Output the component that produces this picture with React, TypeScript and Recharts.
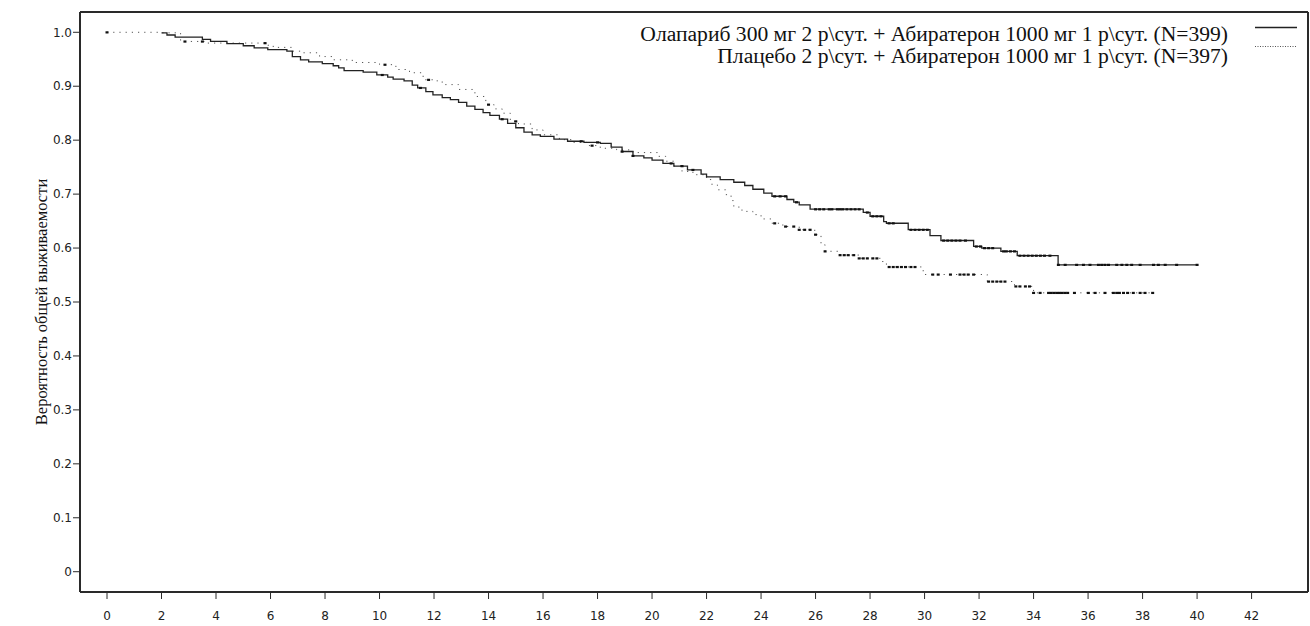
import React from 'react';
import { ComposedChart, Line, Scatter, XAxis, YAxis, ReferenceLine, Legend } from 'recharts';

const xTicks = [0, 2, 4, 6, 8, 10, 12, 14, 16, 18, 20, 22, 24, 26, 28, 30, 32, 34, 36, 38, 40, 42];
const yTicks = [0, 0.1, 0.2, 0.3, 0.4, 0.5, 0.6, 0.7, 0.8, 0.9, 1.0];

const seriesNames = [
  'Олапариб 300 мг 2 р\\сут. + Абиратерон 1000 мг 1 р\\сут. (N=399)',
  'Плацебо 2 р\\сут. + Абиратерон 1000 мг 1 р\\сут. (N=397)',
];
const yLabel = 'Вероятность общей выживаемости';

const olaparibTime = [2.0, 2.2, 2.5, 3.5, 3.8, 4.4, 5.0, 5.4, 5.9, 6.6, 6.8, 7.1, 7.4, 7.9, 8.3, 8.5, 8.7, 9.4, 9.9, 10.3, 10.5, 10.9, 11.2, 11.4, 11.7, 11.96, 12.3, 12.6, 12.9, 13.2, 13.5, 13.8, 14.05, 14.4, 14.7, 15.0, 15.3, 15.6, 15.9, 16.4, 16.9, 17.5, 18.1, 18.5, 18.9, 19.3, 19.7, 20.0, 20.4, 20.8, 21.3, 21.8, 22.0, 22.5, 23.0, 23.4, 23.7, 24.1, 24.4, 24.95, 25.2, 25.4, 25.8, 27.75, 28.0, 28.5, 28.6, 29.4, 30.2, 30.6, 31.8, 32.1, 32.8, 33.4, 34.9, 40.0];
const olaparibSurv = [0.999, 0.995, 0.991, 0.987, 0.983, 0.979, 0.975, 0.971, 0.968, 0.965, 0.955, 0.949, 0.945, 0.942, 0.938, 0.934, 0.929, 0.926, 0.921, 0.917, 0.913, 0.910, 0.902, 0.897, 0.890, 0.884, 0.879, 0.875, 0.870, 0.863, 0.857, 0.851, 0.846, 0.839, 0.831, 0.823, 0.815, 0.810, 0.807, 0.802, 0.798, 0.796, 0.794, 0.787, 0.779, 0.771, 0.767, 0.763, 0.757, 0.752, 0.745, 0.737, 0.732, 0.727, 0.722, 0.716, 0.709, 0.702, 0.696, 0.690, 0.685, 0.680, 0.672, 0.666, 0.659, 0.649, 0.646, 0.634, 0.623, 0.614, 0.603, 0.600, 0.594, 0.586, 0.569, 0.569];

const placeboTime = [0, 2.0, 2.7, 3.7, 5.9, 6.1, 6.8, 7.2, 7.8, 8.3, 9.0, 10.0, 10.6, 11.1, 11.6, 12.0, 12.3, 12.9, 13.5, 13.9, 14.2, 14.5, 14.8, 15.1, 15.6, 16.0, 16.6, 17.1, 17.6, 18.1, 18.7, 19.3, 20.2, 20.5, 20.8, 21.1, 21.5, 22.0, 22.2, 22.4, 22.7, 22.9, 23.0, 23.3, 23.7, 24.0, 24.4, 24.8, 25.4, 25.97, 26.2, 26.35, 26.9, 27.6, 28.4, 28.6, 29.95, 32.3, 33.3, 34.0, 38.4];
const placeboSurv = [1.0, 0.999, 0.983, 0.980, 0.976, 0.972, 0.965, 0.962, 0.955, 0.949, 0.944, 0.940, 0.931, 0.925, 0.912, 0.910, 0.903, 0.894, 0.881, 0.866, 0.858, 0.850, 0.835, 0.830, 0.819, 0.810, 0.801, 0.796, 0.790, 0.785, 0.782, 0.777, 0.770, 0.761, 0.752, 0.742, 0.736, 0.727, 0.717, 0.708, 0.699, 0.688, 0.676, 0.668, 0.662, 0.654, 0.646, 0.640, 0.634, 0.625, 0.606, 0.594, 0.587, 0.581, 0.575, 0.565, 0.551, 0.538, 0.529, 0.517, 0.517];

const olaparibCensor = [10.1, 11.5, 14.5, 17.4, 18.0, 18.9, 19.3, 20.7, 21.1, 21.5, 24.5, 24.7, 24.9, 25.3, 26.0, 26.15, 26.3, 26.5, 26.6, 26.8, 26.9, 27.0, 27.15, 27.3, 27.45, 27.6, 27.9, 28.1, 28.25, 28.4, 28.7, 28.85, 29.5, 29.65, 29.8, 29.95, 30.1, 30.7, 30.85, 31.0, 31.15, 31.3, 31.5, 31.9, 32.05, 32.2, 32.35, 32.5, 32.9, 33.0, 33.15, 33.3, 33.5, 33.65, 33.8, 33.95, 34.1, 34.25, 34.4, 34.6, 34.91, 35.16, 35.58, 35.83, 36.07, 36.38, 36.5, 36.62, 36.75, 37.05, 37.24, 37.42, 37.6, 37.91, 38.4, 38.58, 38.83, 39.25, 40.0];
const placeboCensor = [0, 2.86, 3.5, 5.8, 10.2, 11.8, 14.0, 15.0, 17.8, 24.5, 24.9, 25.2, 25.4, 25.6, 25.8, 26.0, 26.35, 26.9, 27.05, 27.2, 27.4, 27.6, 27.75, 27.9, 28.1, 28.25, 28.7, 28.85, 29.0, 29.15, 29.3, 29.5, 29.65, 30.3, 30.5, 30.95, 31.3, 31.45, 31.6, 31.8, 32.35, 32.5, 32.65, 32.8, 32.95, 33.35, 33.5, 33.7, 33.85, 34.0, 34.24, 34.55, 34.65, 34.75, 34.85, 34.95, 35.05, 35.15, 35.25, 35.5, 36.01, 36.26, 36.62, 36.93, 37.05, 37.15, 37.3, 37.45, 37.66, 37.91, 38.09, 38.37];

const toRows = (times: number[], surv: number[]) => times.map((t, i) => ({ t, s: surv[i] }));
const stepValue = (times: number[], surv: number[], t: number) => {
  let v = surv[0];
  for (let i = 0; i < times.length; i++) {
    if (times[i] <= t + 1e-9) v = surv[i];
  }
  return v;
};
const censorRows = (c: number[], times: number[], surv: number[]) => c.map((t) => ({ t, s: stepValue(times, surv, t) }));

const olaparibData = toRows(olaparibTime, olaparibSurv);
const placeboData = toRows(placeboTime, placeboSurv);
const olaparibCensorData = censorRows(olaparibCensor, olaparibTime, olaparibSurv);
const placeboCensorData = censorRows(placeboCensor, placeboTime, placeboSurv);

const X_DOMAIN: [number, number] = [-0.991, 44.07];
const Y_DOMAIN: [number, number] = [-0.0376, 1.0376];
const AXIS = '#2a2a2a';
const tickFont = { fontFamily: 'DejaVu Sans, Verdana, sans-serif', fontSize: 12, fill: '#222' };
const serif = '"Liberation Serif", "Times New Roman", serif';

const CensorMark = (props: any) => {
  const { cx, cy } = props;
  if (cx == null || cy == null) return null;
  return <rect x={cx - 1.5} y={cy - 1} width={3} height={2.2} fill="#111" />;
};

const LegendContent = () => (
  <div style={{ fontFamily: serif, fontSize: 21.6, color: '#111' }}>
    {seriesNames.map((name, i) => (
      <div key={name} style={{ display: 'flex', alignItems: 'flex-start', height: 22, lineHeight: '22px' }}>
        <div style={{ width: 628, textAlign: 'right', whiteSpace: 'nowrap' }}>{name}</div>
        <svg width={70} height={22} style={{ display: 'block' }}>
          <line
            x1={27}
            x2={69}
            y1={i === 0 ? 4.5 : 1.5}
            y2={i === 0 ? 4.5 : 1.5}
            stroke={i === 0 ? '#222' : '#555'}
            strokeWidth={i === 0 ? 1.3 : 1}
            strokeDasharray={i === 0 ? undefined : '1 1.5'}
          />
        </svg>
      </div>
    ))}
  </div>
);

const YLabel = (props: any) => {
  const vb = props.viewBox || { x: 8, y: 12, width: 72, height: 580 };
  const cx = 41;
  const cy = vb.y + vb.height / 2;
  return (
    <text
      x={cx}
      y={cy}
      transform={`rotate(-90, ${cx}, ${cy})`}
      textAnchor="middle"
      dy="0.35em"
      style={{ fontFamily: serif, fontSize: 16.5, fill: '#111' }}
    >
      {yLabel}
    </text>
  );
};

export default function App() {
  return (
    <div style={{ position: 'absolute', left: 0, top: 0, width: 1310, height: 626, background: '#fff' }}>
      <ComposedChart width={1310} height={626} margin={{ top: 12, right: 2, bottom: 0, left: 8 }}>
        <XAxis
          dataKey="t"
          type="number"
          domain={X_DOMAIN}
          ticks={xTicks}
          allowDataOverflow
          height={34}
          tickSize={7}
          tickMargin={12}
          tick={tickFont}
          axisLine={{ stroke: AXIS, strokeWidth: 2 }}
          tickLine={{ stroke: AXIS, strokeWidth: 1 }}
        />
        <YAxis
          type="number"
          domain={Y_DOMAIN}
          ticks={yTicks}
          allowDataOverflow
          width={72}
          tickSize={7}
          tickMargin={1}
          tick={tickFont}
          tickFormatter={(v: number) => (v === 0 ? '0' : v.toFixed(1))}
          axisLine={{ stroke: AXIS, strokeWidth: 2 }}
          tickLine={{ stroke: AXIS, strokeWidth: 1 }}
          label={{ content: YLabel }}
        />
        <ReferenceLine y={Y_DOMAIN[1]} stroke={AXIS} strokeWidth={2} />
        <ReferenceLine x={X_DOMAIN[1]} stroke={AXIS} strokeWidth={2} />
        <Line
          data={placeboData}
          dataKey="s"
          type="stepAfter"
          stroke="#555"
          strokeWidth={1}
          strokeDasharray="1.2 5"
          dot={false}
          activeDot={false}
          isAnimationActive={false}
        />
        <Line
          data={olaparibData}
          dataKey="s"
          type="stepAfter"
          stroke="#222"
          strokeWidth={1.3}
          dot={false}
          activeDot={false}
          isAnimationActive={false}
        />
        <Scatter data={placeboCensorData} dataKey="s" shape={CensorMark} isAnimationActive={false} />
        <Scatter data={olaparibCensorData} dataKey="s" shape={CensorMark} isAnimationActive={false} />
        <Legend
          layout="vertical"
          align="center"
          verticalAlign="middle"
          content={LegendContent}
          wrapperStyle={{ position: 'absolute', top: 22.5, left: 600, width: 700, height: 44, bottom: 'auto', right: 'auto', margin: 0 }}
        />
      </ComposedChart>
    </div>
  );
}
